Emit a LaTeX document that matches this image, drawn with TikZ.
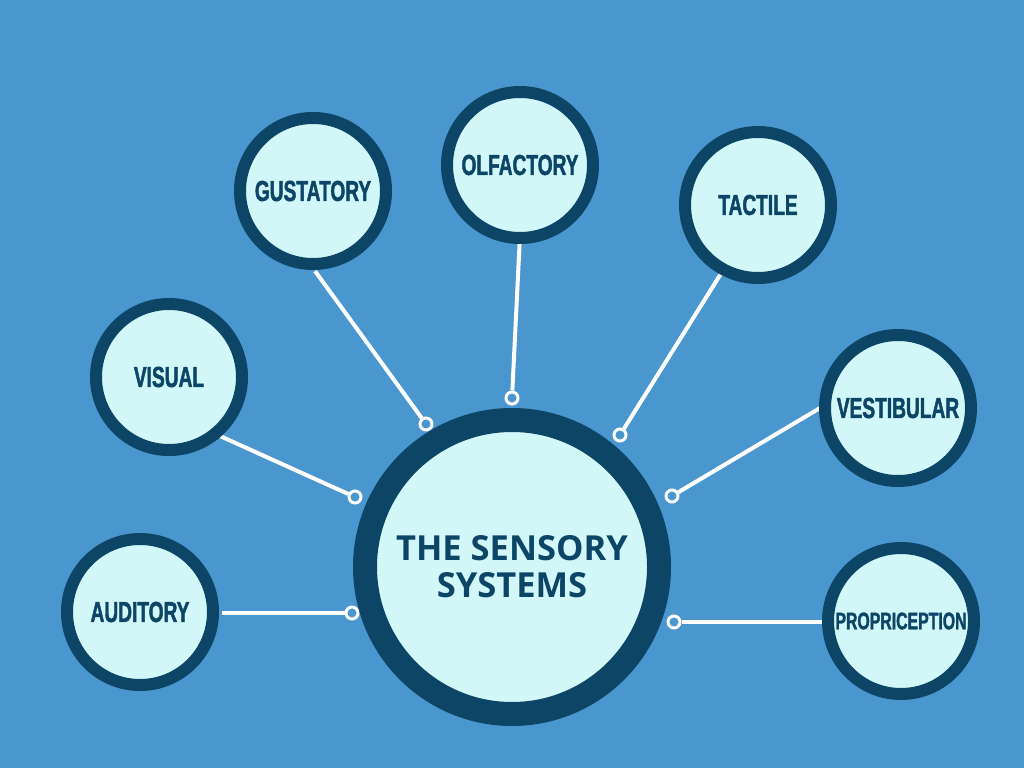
\documentclass[tikz,border=0pt]{standalone}
\usepackage{fontspec}
\setmainfont{Open Sans}
\newfontfamily\condfont[FakeStretch=0.66,FakeBold=1.5]{Liberation Sans}
\definecolor{bgblue}{HTML}{4A96CE}
\definecolor{darkblue}{HTML}{0D4567}
\definecolor{paleblue}{HTML}{D2F7F8}
\tikzset{
  sense/.style={circle, draw=darkblue, line width=12pt, fill=paleblue, minimum size=146pt,
    inner sep=0pt, text=darkblue, font=\condfont\bfseries\fontsize{29}{29}\selectfont},
  hub/.style={circle, draw=darkblue, line width=24pt, fill=paleblue, minimum size=294pt,
    inner sep=0pt, text=darkblue, align=center, font=\bfseries\fontsize{34.5}{37}\selectfont},
  pin/.style={circle, draw=white, line width=3pt, fill=bgblue, minimum size=12pt, inner sep=0pt},
  link/.style={white, line width=4pt}
}
\begin{document}
\begin{tikzpicture}[x=1pt,y=-1pt]
\fill[bgblue] (0,0) rectangle (1024,768);
\useasboundingbox (0,0) rectangle (1024,768);
% links, drawn first
\coordinate (sgus) at (315,271);
\coordinate (solf) at (520,235);
\coordinate (stac) at (722,272);
\coordinate (svis) at (220,436);
\coordinate (sves) at (820,408);
\coordinate (saud) at (222,613);
\coordinate (spro) at (822,622);
% pins on the hub
\node[pin] (pgus) at (426,424) {};
\node[pin] (polf) at (512,398) {};
\node[pin] (ptac) at (620,435) {};
\node[pin] (pvis) at (355,497) {};
\node[pin] (pves) at (672,496) {};
\node[pin] (paud) at (352,613) {};
\node[pin] (ppro) at (674,622) {};
\foreach \s in {gus,olf,tac,vis,ves,aud,pro}
  \draw[link] (s\s) -- (p\s);
% the hub
\node[hub] (hub) at (512,567) {THE SENSORY\\SYSTEMS};
% the senses
\node[sense] (gus) at (313,191) {GUSTATORY};
\node[sense] (olf) at (520,165) {OLFACTORY};
\node[sense] (tac) at (758,205) {TACTILE};
\node[sense] (vis) at (169,377) {VISUAL};
\node[sense] (ves) at (898,408) {VESTIBULAR};
\node[sense] (aud) at (140,612) {AUDITORY};
\node[sense, font=\condfont\bfseries\fontsize{24}{24}\selectfont] (pro) at (901,621) {PROPRICEPTION};
\end{tikzpicture}
\end{document}
